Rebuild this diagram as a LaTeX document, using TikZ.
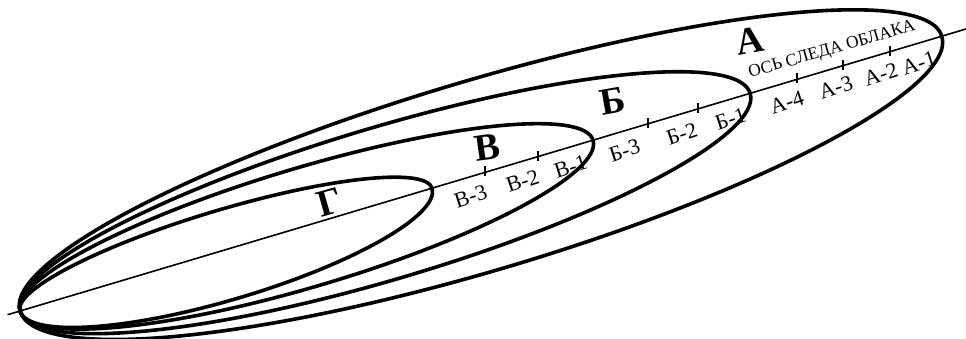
\documentclass[tikz,border=0pt]{standalone}
\usepackage{fontspec}
\setmainfont{Liberation Serif}
\begin{document}
\begin{tikzpicture}[x=1pt,y=1pt,
  zone/.style={line width=3.6pt},
  axisline/.style={line width=1.6pt},
  tickmark/.style={line width=1.1pt},
  ticklabel/.style={font=\fontsize{22}{26}\selectfont, rotate=18, inner sep=0pt},
  zonename/.style={font=\fontsize{38}{44}\selectfont\bfseries, inner sep=0pt},
  axisname/.style={font=\fontsize{17.5}{21}\selectfont, rotate=16, inner sep=0pt}]
\useasboundingbox (0,0) rectangle (966,338);
\begin{scope}[shift={(20,27)}, rotate=16.6]
  \coordinate (tip) at (0,0);
  \coordinate (axstart) at (-13,0);
  \coordinate (axend) at (992,0);
  \draw[axisline] (axstart) -- (axend);
  % zone A
  \draw[zone] (tip) arc[start angle=180,end angle=0,x radius=481pt,y radius=93pt]
              arc[start angle=0,end angle=-180,x radius=481pt,y radius=97pt] -- cycle;
  % zone B (Б)
  \draw[zone] (tip) arc[start angle=180,end angle=0,x radius=381pt,y radius=75pt]
              arc[start angle=0,end angle=-180,x radius=381pt,y radius=77pt] -- cycle;
  % zone V (В)
  \draw[zone] (tip) arc[start angle=180,end angle=0,x radius=299pt,y radius=58pt]
              arc[start angle=0,end angle=-180,x radius=299pt,y radius=61pt] -- cycle;
  % zone G (Г)
  \draw[zone] (tip) arc[start angle=180,end angle=0,x radius=215pt,y radius=40pt]
              arc[start angle=0,end angle=-180,x radius=215pt,y radius=50pt] -- cycle;
  % tick positions
  \coordinate (t1) at (485.2,0);
  \coordinate (t2) at (540.5,0);
  \coordinate (t3) at (655.3,0);
  \coordinate (t4) at (707.5,0);
  \coordinate (t5) at (810.8,0);
  \coordinate (t6) at (858.8,0);
  \coordinate (t7) at (907.9,0);
  % tick labels
  \node[ticklabel] (v3) at (464.6,-19) {В-3};
  \node[ticklabel] (v2) at (518.9,-19) {В-2};
  \node[ticklabel] (v1) at (569.0,-19) {В-1};
  \node[ticklabel] (b3) at (625.4,-19) {Б-3};
  \node[ticklabel] (b2) at (684.9,-19) {Б-2};
  \node[ticklabel] (b1) at (736.0,-19) {Б-1};
  \node[ticklabel] (a4) at (794.5,-19) {А-4};
  \node[ticklabel] (a3) at (845.7,-19) {А-3};
  \node[ticklabel] (a2) at (892.6,-19) {А-2};
  \node[ticklabel] (a1) at (932.3,-19) {А-1};
  \node[axisname] (axname) at (852.7,18) {ОСЬ СЛЕДА ОБЛАКА};
\end{scope}
\foreach \t in {t1,t2,t3,t4,t5,t6,t7}{
  \draw[tickmark] (\t) ++(0,-4) -- ++(0,10);
}
\node[zonename, rotate=10] (zA) at (750,297) {А};
\node[zonename, rotate=10] (zB) at (613,237) {Б};
\node[zonename, rotate=8] (zV) at (487,191) {В};
\node[zonename, rotate=16] (zG) at (330,136) {Г};
\end{tikzpicture}
\end{document}
